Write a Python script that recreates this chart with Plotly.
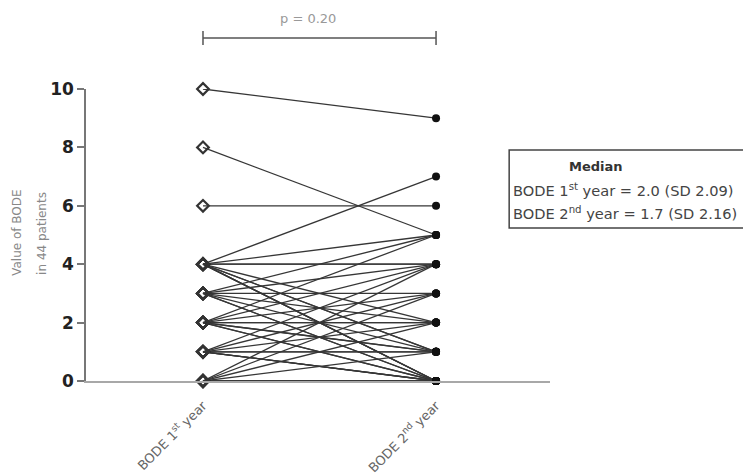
import plotly.graph_objects as go

categories = ["BODE 1<sup>st</sup> year", "BODE 2<sup>nd</sup> year"]
bode_year1 = [10, 8, 6, 4, 4, 4, 4, 4, 4, 4, 4, 4, 3, 3, 3, 3, 3, 3, 2, 2, 2, 2,
              2, 2, 2, 1, 1, 1, 1, 1, 1, 0, 0, 0, 0, 0, 1, 2, 0, 3, 1, 2, 0, 4]
bode_year2 = [9, 5, 6, 7, 5, 4, 4, 0, 0, 1, 2, 0, 5, 4, 3, 0, 1, 2, 4, 5, 2, 0,
              1, 3, 0, 4, 3, 1, 0, 2, 0, 4, 1, 0, 0, 3, 1, 2, 0, 0, 0, 1, 2, 1]
y_ticks = [0, 2, 4, 6, 8, 10]
y_title_lines = ["Value of BODE", "in 44 patients"]
p_text = "p = 0.20"
legend_lines = ["<b>Median</b>",
                "BODE 1<sup>st</sup> year = 2.0 (SD 2.09)",
                "BODE 2<sup>nd</sup> year = 1.7 (SD 2.16)"]

FONT = "DejaVu Sans, Liberation Sans, sans-serif"

lx, ly = [], []
for a, b in zip(bode_year1, bode_year2):
    lx += [0, 1, None]
    ly += [a, b, None]

fig = go.Figure()
fig.add_trace(go.Scatter(x=lx, y=ly, mode="lines",
                         line=dict(color="#363636", width=1.3),
                         hoverinfo="skip", showlegend=False, cliponaxis=False))
fig.add_trace(go.Scatter(x=[0] * len(bode_year1), y=bode_year1, mode="markers",
                         marker=dict(symbol="diamond-open", size=9,
                                     color="#333", line=dict(width=2.2, color="#333")),
                         showlegend=False, cliponaxis=False))
fig.add_trace(go.Scatter(x=[1] * len(bode_year2), y=bode_year2, mode="markers",
                         marker=dict(symbol="circle", size=8, color="#111"),
                         showlegend=False, cliponaxis=False))

# p-value bracket
fig.add_shape(type="line", xref="x", yref="paper", x0=0, x1=1, y0=1.175, y1=1.175,
              line=dict(color="#555", width=1.5))
for xv in [0, 1]:
    fig.add_shape(type="line", xref="x", yref="paper", x0=xv, x1=xv, y0=1.151, y1=1.199,
                  line=dict(color="#555", width=1.5))
fig.add_annotation(x=0.45, xref="x", y=1.243, yref="paper", text=p_text, showarrow=False,
                   yanchor="middle", font=dict(family=FONT, size=13, color="#999"))

# median box
fig.add_shape(type="rect", xref="paper", yref="paper", x0=0.912, x1=1.425, y0=0.524, y1=0.791,
              line=dict(color="#444", width=1.5), fillcolor="rgba(0,0,0,0)")
fig.add_annotation(x=1.162, xref="paper", y=0.736, yref="paper", text=legend_lines[0],
                   showarrow=False, yanchor="middle",
                   font=dict(family=FONT, size=13, color="#333"))
fig.add_annotation(x=0.916, xref="paper", y=0.655, yref="paper", text=legend_lines[1],
                   showarrow=False, xanchor="left", yanchor="middle",
                   font=dict(family=FONT, size=14.6, color="#444"))
fig.add_annotation(x=0.916, xref="paper", y=0.574, yref="paper", text=legend_lines[2],
                   showarrow=False, xanchor="left", yanchor="middle",
                   font=dict(family=FONT, size=14.6, color="#444"))

# y-axis title (two lines)
for xp, txt in zip([-0.149, -0.095], y_title_lines):
    fig.add_annotation(x=xp, xref="paper", y=0.507, yref="paper", text=txt,
                       textangle=-90, showarrow=False, xanchor="center", yanchor="middle",
                       font=dict(family=FONT, size=12, color="#888"))

fig.update_layout(
    width=743, height=476,
    margin=dict(l=86, r=193, t=89, b=95, autoexpand=False),
    paper_bgcolor="white", plot_bgcolor="white",
    showlegend=False,
    xaxis=dict(range=[-0.502, 1.489], tickvals=[0, 1], ticktext=categories,
               tickangle=-45, showgrid=False, zeroline=False, showline=True,
               linecolor="#a8a8a8", linewidth=2, ticks="", ticklabelstandoff=10,
               automargin=False,
               tickfont=dict(family=FONT, size=13, color="#666")),
    yaxis=dict(range=[0, 10], tickvals=y_ticks, showgrid=False, zeroline=False,
               showline=True, linecolor="#777", linewidth=1.5, ticks="outside",
               ticklen=7, tickcolor="#777", tickwidth=1.5, automargin=False,
               tickfont=dict(family=FONT, size=17, color="#222", weight="bold")),
)

fig.write_html("out.html")
